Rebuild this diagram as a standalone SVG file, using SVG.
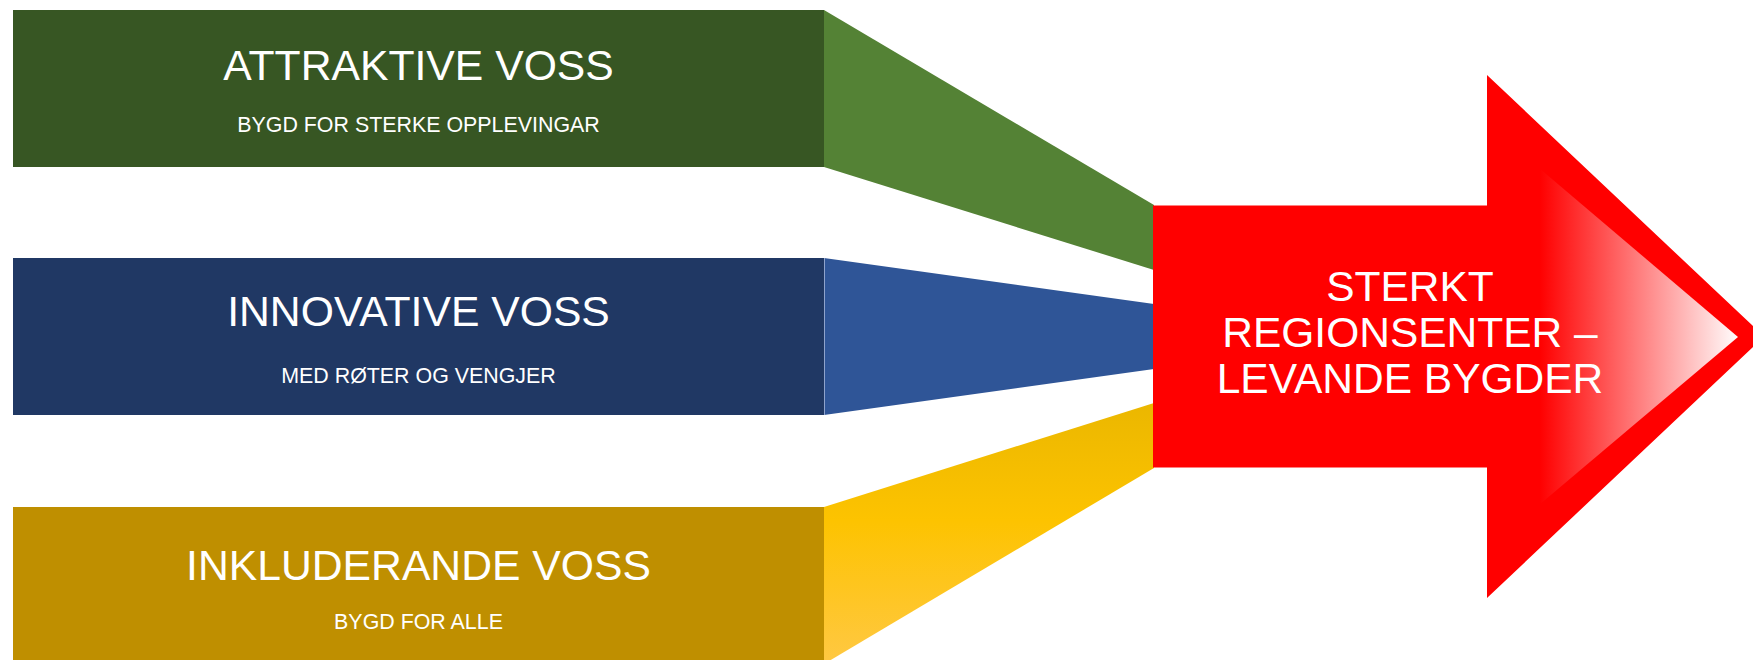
<svg xmlns="http://www.w3.org/2000/svg" width="1753" height="660" viewBox="0 0 1753 660">
  <defs>
    <linearGradient id="yellowGrad" gradientUnits="userSpaceOnUse" x1="0" y1="403" x2="0" y2="664">
      <stop offset="0" stop-color="#EBB700"/>
      <stop offset="0.45" stop-color="#FDC300"/>
      <stop offset="1" stop-color="#FFC843"/>
    </linearGradient>
    <linearGradient id="tipGrad" gradientUnits="userSpaceOnUse" x1="1540" y1="0" x2="1740" y2="0">
      <stop offset="0" stop-color="#FF0000"/>
      <stop offset="1" stop-color="#FFFFFF"/>
    </linearGradient>
    <style>
      .title { font-family: "Liberation Sans", Arial, sans-serif; font-size: 42.7px; fill: #FFFFFF; text-anchor: middle; }
      .sub { font-family: "Liberation Sans", Arial, sans-serif; font-size: 21.4px; fill: #FFFFFF; text-anchor: middle; }
      .goal { font-family: "Liberation Sans", Arial, sans-serif; font-size: 42.5px; fill: #FFFFFF; text-anchor: middle; }
    </style>
  </defs>
  <rect x="0" y="0" width="1753" height="660" fill="#FFFFFF"/>

  <g id="connectors">
    <polygon points="824,10 1154,205 1154,270 824,167" fill="#548235"/>
    <polygon points="824,258 1154,304 1154,369 824,415" fill="#2F5597"/>
    <line x1="824.5" y1="258" x2="824.5" y2="415" stroke="#8FA3CC" stroke-width="1"/>
    <polygon points="824,507 1154,403 1154,468 824,664" fill="url(#yellowGrad)"/>
  </g>

  <g id="node-attraktive">
    <rect x="13" y="10" width="811" height="157" fill="#375623"/>
    <text class="title" x="418.5" y="80">ATTRAKTIVE VOSS</text>
    <text class="sub" x="418.5" y="131.5">BYGD FOR STERKE OPPLEVINGAR</text>
  </g>

  <g id="node-innovative">
    <rect x="13" y="258" width="811" height="157" fill="#203864"/>
    <text class="title" x="418.5" y="326">INNOVATIVE VOSS</text>
    <text class="sub" x="418.5" y="383">MED RØTER OG VENGJER</text>
  </g>

  <g id="node-inkluderande">
    <rect x="13" y="507" width="811" height="157" fill="#BF8F00"/>
    <text class="title" x="418.5" y="580">INKLUDERANDE VOSS</text>
    <text class="sub" x="418.5" y="629">BYGD FOR ALLE</text>
  </g>

  <g id="node-regionsenter">
    <polygon points="1153,205.5 1487,205.5 1487,75 1764,336.5 1487,598 1487,467.5 1153,467.5" fill="#FF0000"/>
    <polygon points="1539,168 1738,337 1539,505" fill="url(#tipGrad)"/>
    <text class="goal" x="1410" y="301">STERKT</text>
    <text class="goal" x="1410" y="346.5">REGIONSENTER –</text>
    <text class="goal" x="1410" y="392.5">LEVANDE BYGDER</text>
  </g>
</svg>
